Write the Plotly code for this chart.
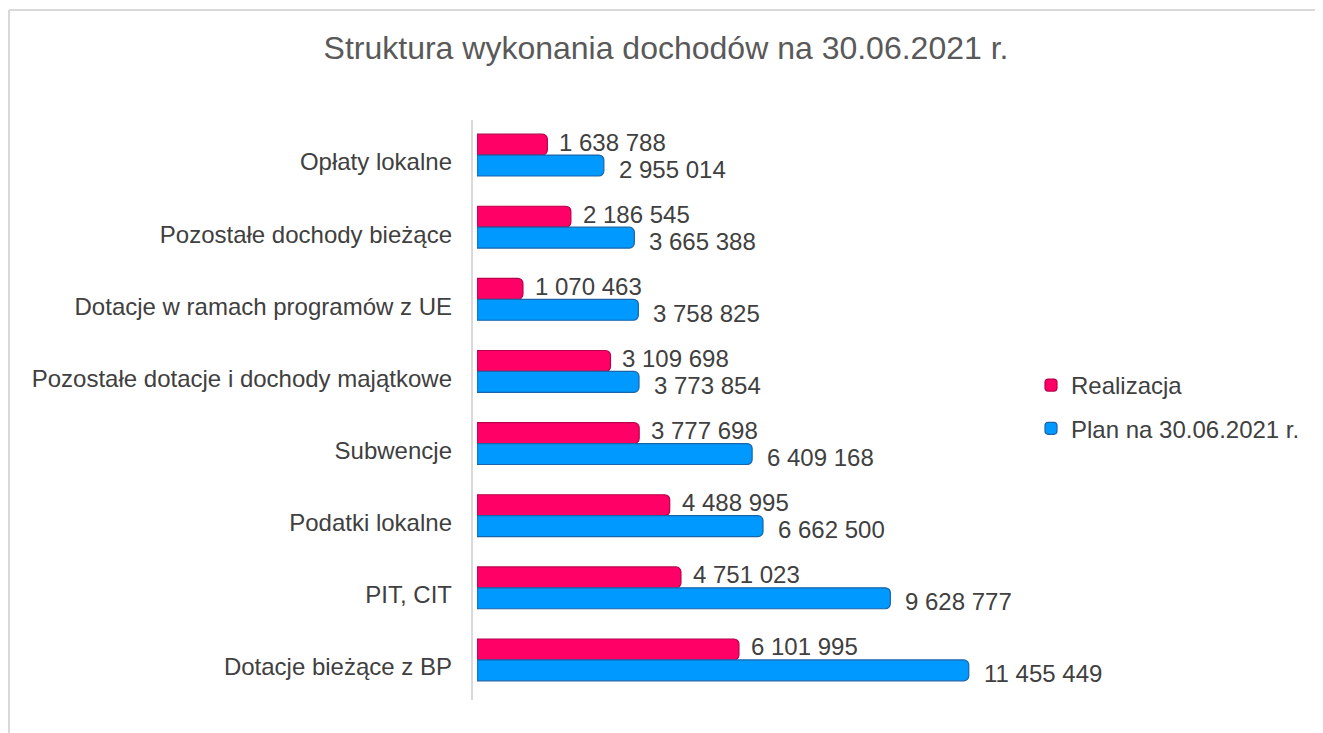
import plotly.graph_objects as go

categories = [
    "Opłaty lokalne",
    "Pozostałe dochody bieżące",
    "Dotacje w ramach programów z UE",
    "Pozostałe dotacje i dochody majątkowe",
    "Subwencje",
    "Podatki lokalne",
    "PIT, CIT",
    "Dotacje bieżące z BP",
]
realizacja = [1638788, 2186545, 1070463, 3109698, 3777698, 4488995, 4751023, 6101995]
plan = [2955014, 3665388, 3758825, 3773854, 6409168, 6662500, 9628777, 11455449]
series_names = ["Realizacja", "Plan na 30.06.2021 r."]
title_text = "Struktura wykonania dochodów na 30.06.2021 r."


def fmt(v):
    return f"{v:,}".replace(",", " ")


W, H = 1323, 733
L, R, T, B = 469, 253, 111, 45
FONT = "Liberation Sans, Arial, sans-serif"
TXT = "#404040"

fig = go.Figure()
fig.add_trace(go.Bar(
    y=categories, x=realizacja, orientation="h", name=series_names[0],
    legendgroup="a",
    marker=dict(color="#FF0066", line=dict(color="#B8004A", width=1.2), cornerradius=5),
))
fig.add_trace(go.Bar(
    y=categories, x=plan, orientation="h", name=series_names[1],
    legendgroup="b",
    marker=dict(color="#0099FF", line=dict(color="#1A64A8", width=1.2), cornerradius=5),
))

pw = W - L - R
ph = H - T - B


def px_x(p):
    return (p - L) / pw


def px_y(p):
    return 1 - (p - T) / ph


annotations = []
for cat, v in zip(categories, realizacja):
    annotations.append(dict(x=v, y=cat, xref="x", yref="y", text=fmt(v), showarrow=False,
                            xanchor="left", yanchor="middle", xshift=10, yshift=13,
                            font=dict(size=24, color=TXT, family=FONT)))
for cat, v in zip(categories, plan):
    annotations.append(dict(x=v, y=cat, xref="x", yref="y", text=fmt(v), showarrow=False,
                            xanchor="left", yanchor="middle", xshift=13, yshift=-14,
                            font=dict(size=24, color=TXT, family=FONT)))

fig.update_layout(
    width=W, height=H,
    margin=dict(l=L, r=R, t=T, b=B, autoexpand=False),
    paper_bgcolor="white", plot_bgcolor="white",
    barmode="group", bargap=0.42, bargroupgap=0.0,
    font=dict(family=FONT, color=TXT, size=24),
    title=dict(text=title_text, x=658 / W, xanchor="center", xref="container",
               y=1 - 40 / H, yanchor="middle", yref="container",
               font=dict(size=32, color="#595959", family=FONT)),
    xaxis=dict(range=[0, 14000000], visible=False, showgrid=False, zeroline=False),
    yaxis=dict(autorange="reversed", showgrid=False, zeroline=False,
               showline=False, ticks="", ticklabelstandoff=24, ticklabelshift=-7,
               tickfont=dict(size=24, color=TXT, family=FONT)),
    legend=dict(x=px_x(1023), y=px_y(355), xanchor="left", yanchor="top",
                font=dict(size=24, color=TXT, family=FONT),
                bgcolor="rgba(0,0,0,0)", itemwidth=30, tracegroupgap=9),
    annotations=annotations,
    shapes=[
        dict(type="line", xref="paper", yref="paper",
             x0=px_x(1), x1=px_x(W + 5), y0=px_y(2), y1=px_y(2),
             line=dict(color="#D9D9D9", width=2)),
        dict(type="line", xref="paper", yref="paper",
             x0=px_x(1), x1=px_x(1), y0=px_y(2), y1=px_y(H + 5),
             line=dict(color="#D9D9D9", width=2)),
        dict(type="line", xref="paper", yref="paper",
             x0=px_x(464), x1=px_x(464), y0=px_y(112), y1=px_y(692),
             line=dict(color="#D9D9D9", width=2)),
    ],
)

fig.write_html("out.html")
